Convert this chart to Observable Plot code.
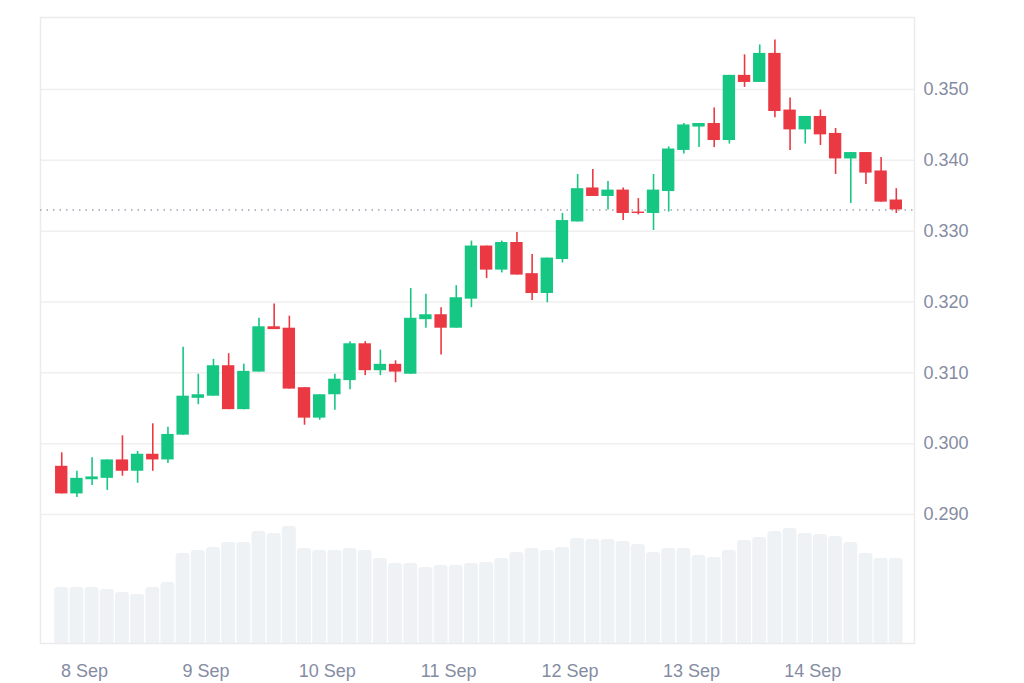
<!DOCTYPE html>
<html>
<head>
<meta charset="utf-8">
<script src="https://cdn.jsdelivr.net/npm/d3@7"></script>
<script src="https://cdn.jsdelivr.net/npm/@observablehq/plot@0.6"></script>
<style>
  html, body { margin: 0; padding: 0; background: #ffffff; }
  #wrap { position: relative; width: 1024px; height: 683px; }
  #wrap > svg { position: absolute; left: 0; top: 0; }
</style>
</head>
<body>
<div id="wrap"></div>
<script>
// 3-hour candles, period start times (UTC), first period 7 Sep 18:00
const startTime = Date.UTC(2023, 8, 7, 18);
const candleCount = 56;

const opens = [0.2968,0.2929,0.2949,0.2951,0.2977,0.2961,0.2985,0.2977,0.3012,0.3064,
  0.3067,0.3110,0.3048,0.3101,0.3165,0.3163,0.3079,0.3036,0.3069,0.3089,
  0.3141,0.3103,0.3112,0.3098,0.3175,0.3182,0.3163,0.3204,0.3279,0.3245,
  0.3284,0.3240,0.3212,0.3260,0.3313,0.3361,0.3349,0.3358,0.3327,0.3325,
  0.3356,0.3414,0.3447,0.3452,0.3428,0.3520,0.3510,0.3551,0.3471,0.3443,
  0.3462,0.3438,0.3402,0.3411,0.3385,0.3344];
const highs = [0.2987,0.2961,0.2980,0.2977,0.3011,0.2989,0.3028,0.3023,0.3136,0.3098,
  0.3119,0.3127,0.3112,0.3177,0.3197,0.3180,0.3079,0.3069,0.3098,0.3144,
  0.3144,0.3132,0.3117,0.3219,0.3211,0.3192,0.3223,0.3286,0.3279,0.3286,
  0.3298,0.3267,0.3262,0.3325,0.3380,0.3387,0.3370,0.3361,0.3346,0.3380,
  0.3419,0.3452,0.3452,0.3474,0.3520,0.3549,0.3563,0.3570,0.3488,0.3462,
  0.3471,0.3445,0.3411,0.3411,0.3404,0.3360];
const lows = [0.2929,0.2924,0.2941,0.2934,0.2954,0.2944,0.2961,0.2972,0.3012,0.3055,
  0.3067,0.3048,0.3048,0.3101,0.3161,0.3077,0.3026,0.3033,0.3047,0.3076,
  0.3096,0.3096,0.3086,0.3098,0.3163,0.3125,0.3163,0.3192,0.3233,0.3241,
  0.3238,0.3202,0.3199,0.3255,0.3313,0.3349,0.3330,0.3315,0.3323,0.3301,
  0.3327,0.3409,0.3418,0.3418,0.3423,0.3503,0.3510,0.3460,0.3414,0.3423,
  0.3421,0.3380,0.3339,0.3366,0.3341,0.3325];
const closes = [0.2929,0.2951,0.2953,0.2977,0.2961,0.2985,0.2977,0.3013,0.3067,0.3069,
  0.3110,0.3048,0.3102,0.3165,0.3161,0.3077,0.3036,0.3069,0.3091,0.3141,
  0.3103,0.3112,0.3101,0.3177,0.3182,0.3163,0.3206,0.3279,0.3245,0.3284,
  0.3238,0.3212,0.3262,0.3315,0.3360,0.3349,0.3358,0.3325,0.3325,0.3358,
  0.3416,0.3450,0.3452,0.3428,0.3520,0.3510,0.3551,0.3469,0.3443,0.3462,
  0.3436,0.3402,0.3411,0.3382,0.3341,0.3330];
// volume (millions, estimated)
const volumes = [5.9,5.9,5.9,5.7,5.4,5.2,5.9,6.4,9.3,9.6,
  9.9,10.4,10.4,11.5,11.3,12.0,9.8,9.6,9.6,9.8,
  9.6,8.8,8.3,8.3,7.9,8.1,8.1,8.3,8.4,8.8,
  9.4,9.8,9.6,9.9,10.8,10.7,10.7,10.5,10.2,9.4,
  9.8,9.8,9.1,8.9,9.6,10.6,10.9,11.5,11.8,11.3,
  11.2,11.0,10.4,9.3,8.8,8.8];

const yTicks = [0.290, 0.300, 0.310, 0.320, 0.330, 0.340, 0.350];
const dayTicks = [8, 9, 10, 11, 12, 13, 14].map(d => new Date(Date.UTC(2023, 8, d)));

const H = 3600e3;
const candles = d3.range(candleCount).map(i => {
  const t = new Date(startTime + i * 3 * H);
  return {
    t, t2: new Date(+t + 3 * H), mid: new Date(+t + 1.5 * H),
    o: opens[i], h: highs[i], l: lows[i], c: closes[i], v: volumes[i]
  };
});

const GREEN = "#16c784", RED = "#ea3943";
const colorOf = d => d.c >= d.o ? GREEN : RED;
const xDomain = [new Date(Date.UTC(2023, 8, 7, 15, 18)), new Date(Date.UTC(2023, 8, 14, 20, 6))];
const common = {
  width: 1024, height: 683,
  marginLeft: 40, marginRight: 110, marginTop: 17, marginBottom: 40
};

const back = Plot.plot({
  ...common,
  style: { background: "#ffffff" },
  x: { type: "utc", domain: xDomain, axis: null },
  y: { domain: [0.3, 62.9], axis: null },
  marks: [
    Plot.rectY(candles, { x1: "t", x2: "t2", y: "v", fill: "#eff2f5",
      insetLeft: 0.6, insetRight: 0.6, rx: 3, clip: true })
  ]
});

const front = Plot.plot({
  ...common,
  style: { background: "transparent", fontFamily: "'Liberation Sans', Arial, sans-serif",
           fontSize: "18px", color: "#858ca2" },
  x: { type: "utc", domain: xDomain, ticks: dayTicks, tickFormat: d3.utcFormat("%-d %b"),
       tickSize: 0, tickPadding: 21, label: null },
  y: { domain: [0.27178, 0.36017], axis: "right", ticks: yTicks, tickFormat: ".3f",
       tickSize: 0, tickPadding: 9, label: null },
  marks: [
    Plot.ruleY(yTicks, { stroke: "#efefef", strokeWidth: 1.5 }),
    Plot.frame({ stroke: "#ebebeb", strokeWidth: 1.5 }),
    Plot.ruleY([closes[closes.length - 1]], { stroke: "#9ea4b3", strokeWidth: 1.5, strokeDasharray: "1.5,5" }),
    Plot.ruleX(candles, { x: "mid", y1: "l", y2: "h", stroke: colorOf, strokeWidth: 1.6 }),
    Plot.rectY(candles, { x1: "t", x2: "t2", y1: "o", y2: "c", fill: colorOf,
      insetLeft: 1.4, insetRight: 1.4 })
  ]
});

const wrap = document.getElementById("wrap");
wrap.appendChild(back);
wrap.appendChild(front);
</script>
</body>
</html>
